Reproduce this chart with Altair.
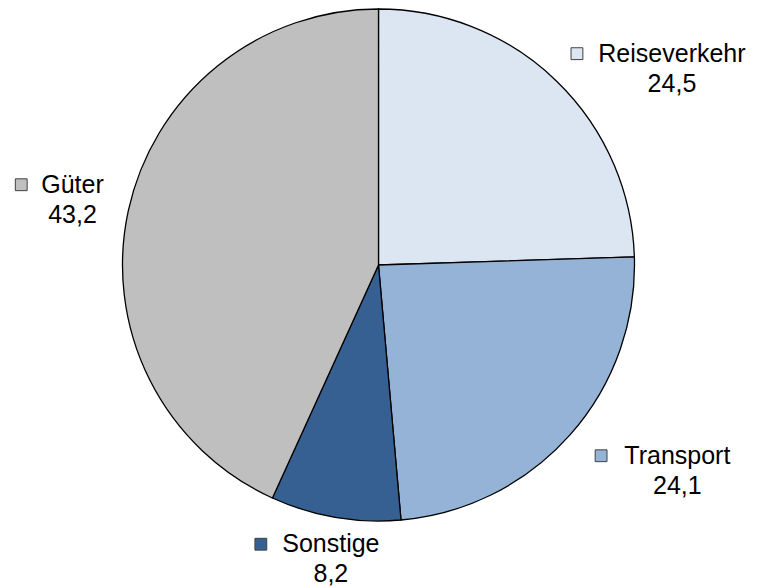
import altair as alt
import pandas as pd

categories = ["Reiseverkehr", "Transport", "Sonstige", "Güter"]
values = [24.5, 24.1, 8.2, 43.2]
value_labels = ["24,5", "24,1", "8,2", "43,2"]
colors = ["#DCE6F2", "#95B3D7", "#376092", "#BFBFBF"]

df = pd.DataFrame({
    "cat": categories,
    "value": values,
    "vlabel": value_labels,
    "order": list(range(len(categories))),
})

W, H = 741, 514
PIE_R = 256
RX, KX = 249, 1.75
RY, KY = 330, -0.5
DROP_RIGHT = 13      # right-hand labels sit a little lower
PUSH_LOWER = 18      # lower-right labels sit a little further out
CHAR_W = 12.5
FONT = "Liberation Sans"
FS = 25

color_scale = alt.Scale(domain=categories, range=colors)
xs = alt.Scale(domain=[-W / 2, W / 2], nice=False, zero=False)
ys = alt.Scale(domain=[-H / 2, H / 2], nice=False, zero=False)

base = alt.Chart(df)

pie = base.mark_arc(radius=PIE_R, stroke="black", strokeWidth=1.3).encode(
    theta=alt.Theta("value:Q", stack=True),
    color=alt.Color("cat:N", scale=color_scale, legend=None),
    order=alt.Order("order:Q"),
)

lab = base.transform_window(
    cum="sum(value)", sort=[alt.SortField("order")], frame=[None, 0]
).transform_joinaggregate(
    total="sum(value)"
).transform_calculate(
    a="2*PI*(datum.cum - datum.value/2)/datum.total",
    tw=f"length(datum.cat)*{CHAR_W}",
).transform_calculate(
    w="datum.tw + 26",
).transform_calculate(
    cx=f"({RX} + {KX}*datum.w/2)*sin(datum.a) + {PUSH_LOWER}*max(sin(datum.a),0)*max(-cos(datum.a),0)",
    cy=f"({RY} + {KY}*datum.w/2)*cos(datum.a) - {DROP_RIGHT}*max(sin(datum.a),0)",
).transform_calculate(
    tx="datum.cx + 13",
    sqx="datum.cx - datum.tw/2 - 7",
    ny="datum.cy + 15",
    vy="datum.cy - 15",
)

names = lab.mark_text(font=FONT, fontSize=FS, color="black", baseline="middle", align="center").encode(
    x=alt.X("tx:Q", scale=xs, axis=None),
    y=alt.Y("ny:Q", scale=ys, axis=None),
    text="cat:N",
)
vals = lab.mark_text(font=FONT, fontSize=FS, color="black", baseline="middle", align="center").encode(
    x=alt.X("tx:Q", scale=xs, axis=None),
    y=alt.Y("vy:Q", scale=ys, axis=None),
    text="vlabel:N",
)
squares = lab.mark_point(shape="square", filled=True, size=140, stroke="#404040", strokeWidth=1, opacity=1).encode(
    x=alt.X("sqx:Q", scale=xs, axis=None),
    y=alt.Y("ny:Q", scale=ys, axis=None),
    fill=alt.Fill("cat:N", scale=color_scale, legend=None),
)

chart = alt.layer(pie, squares, names, vals).properties(
    width=W, height=H,
    autosize=alt.AutoSizeParams(type="none"),
    padding={"left": 0, "top": 0, "right": 0, "bottom": 72},
).configure_view(stroke=None)

chart.save("out.html", embed_options={"renderer": "svg", "actions": False})
